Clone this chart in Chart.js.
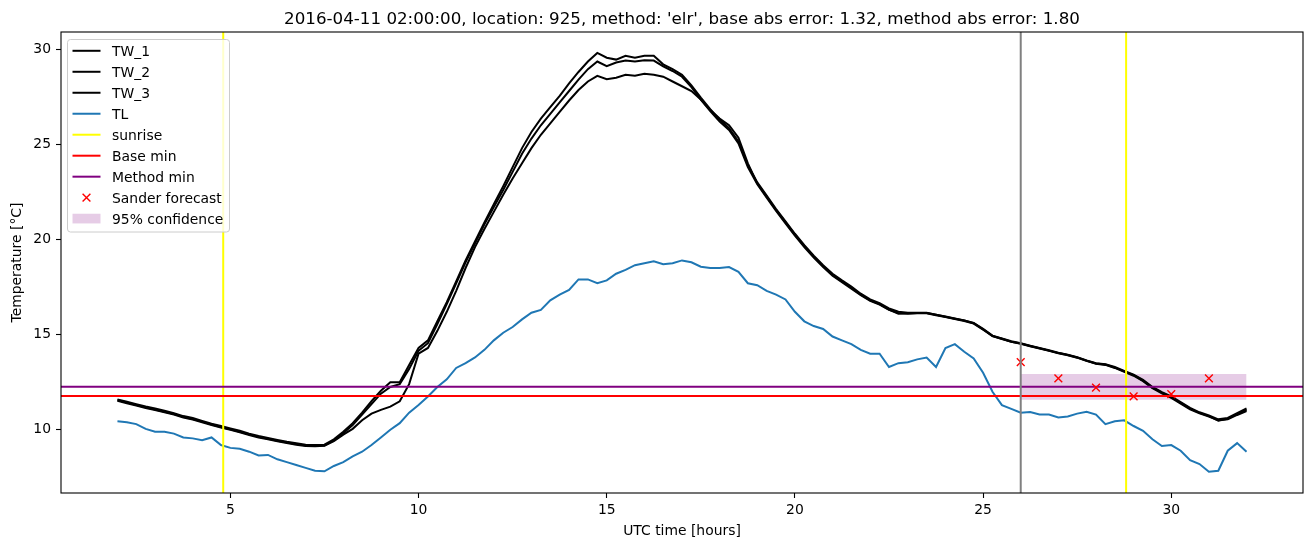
<!DOCTYPE html>
<html><head><meta charset="utf-8">
<script src="https://cdn.jsdelivr.net/npm/chart.js@4.4.0/dist/chart.umd.min.js"></script>
<style>html,body{margin:0;padding:0;background:#fff;} #c{display:block;}</style>
</head><body>
<canvas id="c" width="1310" height="547"></canvas>
<script>
const titleText = "2016-04-11 02:00:00, location: 925, method: 'elr', base abs error: 1.32, method abs error: 1.80";
const xLabel = "UTC time [hours]";
const yLabel = "Temperature [°C]";
const xTicks = [5, 10, 15, 20, 25, 30];
const yTicks = [10, 15, 20, 25, 30];
const xRange = [0.5, 33.5];
const yRange = [6.68, 30.9];
const timeStart = 2, timeStep = 0.25;

const tw1 = [11.60,11.47,11.34,11.22,11.12,11.00,10.87,10.72,10.62,10.47,10.32,10.20,10.07,9.95,9.80,9.67,9.57,9.47,9.37,9.29,9.22,9.20,9.22,9.50,
9.90,10.35,10.90,11.50,12.05,12.50,12.50,13.40,14.30,14.70,15.70,16.70,17.80,18.90,19.90,20.90,21.85,22.80,23.80,24.80,25.65,26.35,26.95,27.55,
28.20,28.80,29.35,29.80,29.55,29.45,29.65,29.55,29.65,29.65,29.20,28.95,28.65,28.10,27.45,26.85,26.30,25.85,25.15,23.90,23.00,22.30,21.60,20.95,
20.30,19.70,19.15,18.65,18.20,17.85,17.52,17.15,16.85,16.65,16.38,16.20,16.15,16.15,16.15,16.05,15.95,15.85,15.75,15.62,15.30,14.95,14.80,14.65,
14.55,14.42,14.30,14.18,14.05,13.95,13.82,13.65,13.50,13.45,13.30,13.10,12.90,12.62,12.25,11.98,11.75,11.45,11.15,10.92,10.75,10.55,10.62,10.88,11.12];

const tw2 = [11.55,11.43,11.30,11.18,11.07,10.95,10.83,10.68,10.57,10.43,10.28,10.15,10.03,9.90,9.76,9.63,9.53,9.43,9.33,9.25,9.18,9.16,9.18,9.45,
9.82,10.25,10.80,11.35,11.90,12.25,12.40,13.20,14.15,14.55,15.55,16.60,17.70,18.80,19.80,20.80,21.70,22.60,23.55,24.50,25.30,26.00,26.60,27.20,
27.80,28.40,28.95,29.35,29.10,29.30,29.40,29.35,29.42,29.40,29.10,28.85,28.55,28.00,27.35,26.75,26.20,25.75,25.05,23.80,22.90,22.20,21.50,20.85,
20.20,19.60,19.05,18.55,18.10,17.75,17.42,17.07,16.78,16.58,16.30,16.13,16.10,16.12,16.12,16.02,15.92,15.82,15.72,15.58,15.26,14.92,14.77,14.62,
14.52,14.39,14.27,14.15,14.02,13.92,13.79,13.62,13.47,13.41,13.25,13.05,12.84,12.56,12.19,11.92,11.68,11.38,11.08,10.86,10.69,10.50,10.55,10.78,10.98];

const tw3 = [11.52,11.40,11.27,11.15,11.04,10.92,10.80,10.65,10.54,10.40,10.25,10.12,10.00,9.87,9.73,9.60,9.50,9.40,9.30,9.22,9.15,9.14,9.16,9.40,
9.75,10.05,10.50,10.85,11.05,11.22,11.50,12.40,14.00,14.30,15.20,16.20,17.30,18.50,19.60,20.55,21.45,22.35,23.20,24.00,24.80,25.50,26.10,26.70,
27.30,27.85,28.30,28.60,28.42,28.50,28.65,28.60,28.70,28.65,28.55,28.30,28.05,27.80,27.35,26.80,26.35,26.00,25.35,24.00,22.95,22.25,21.55,20.90,
20.25,19.65,19.10,18.60,18.15,17.80,17.47,17.10,16.80,16.60,16.32,16.10,16.12,16.14,16.14,16.04,15.94,15.84,15.74,15.60,15.28,14.93,14.78,14.63,
14.53,14.40,14.28,14.16,14.03,13.93,13.80,13.63,13.48,13.43,13.27,13.07,12.87,12.59,12.22,11.95,11.71,11.41,11.11,10.89,10.72,10.48,10.58,10.82,11.05];

const tl = [10.45,10.40,10.30,10.05,9.90,9.90,9.80,9.60,9.55,9.45,9.60,9.20,9.05,9.00,8.85,8.65,8.68,8.45,8.30,8.15,8.00,7.85,7.82,8.10,
8.30,8.60,8.85,9.20,9.60,10.00,10.35,10.90,11.30,11.75,12.25,12.65,13.25,13.50,13.80,14.20,14.70,15.10,15.40,15.80,16.15,16.30,16.80,17.10,
17.35,17.90,17.90,17.70,17.85,18.20,18.40,18.65,18.75,18.85,18.70,18.75,18.90,18.80,18.57,18.50,18.50,18.55,18.30,17.70,17.60,17.30,17.10,16.85,
16.20,15.70,15.45,15.30,14.90,14.70,14.50,14.20,14.00,14.00,13.30,13.50,13.55,13.70,13.80,13.30,14.30,14.50,14.10,13.75,13.00,12.00,11.30,11.10,
10.90,10.93,10.80,10.80,10.65,10.70,10.85,10.95,10.80,10.30,10.45,10.50,10.20,9.95,9.50,9.15,9.20,8.90,8.40,8.20,7.80,7.85,8.90,9.30,8.85];

const sunriseHours = [4.81, 28.80];
const forecastStart = 26;
const baseMin = 11.78;
const methodMin = 12.26;
const sanderHours = [26, 27, 28, 29, 30, 31];
const sanderTemps = [13.56, 12.70, 12.22, 11.76, 11.87, 12.70];
const bandHours = [26, 32];
const bandLow = [11.58, 11.58];
const bandHigh = [12.93, 12.93];

const hours = tw1.map((_, i) => timeStart + i * timeStep);
const pts = (xs, ys) => xs.map((x, i) => ({x: x, y: ys[i]}));
const vline = (x) => [{x: x, y: yRange[0]}, {x: x, y: yRange[1]}];
const hline = (y) => [{x: xRange[0], y: y}, {x: xRange[1], y: y}];

const FONT = '"DejaVu Sans", sans-serif';
const blue = '#1f77b4';
const bandColor = 'rgba(128,0,128,0.2)';
const lineBase = {pointRadius: 0, borderWidth: 2, tension: 0, fill: false, showLine: true};

const datasets = [
  {label: 'band_low', data: pts(bandHours, bandLow), borderWidth: 0, pointRadius: 0, borderColor: 'rgba(0,0,0,0)', fill: false, order: 100, showLine: true},
  {label: '95% confidence', data: pts(bandHours, bandHigh), borderWidth: 0, pointRadius: 0, borderColor: 'rgba(0,0,0,0)', backgroundColor: bandColor, fill: '-1', order: 99, showLine: true},
  Object.assign({label: 'TW_1', data: pts(hours, tw1), borderColor: '#000', order: 90}, lineBase),
  Object.assign({label: 'TW_2', data: pts(hours, tw2), borderColor: '#000', order: 89}, lineBase),
  Object.assign({label: 'TW_3', data: pts(hours, tw3), borderColor: '#000', order: 88}, lineBase),
  Object.assign({label: 'TL', data: pts(hours, tl), borderColor: blue, order: 80}, lineBase),
  Object.assign({label: 'sunrise', data: vline(sunriseHours[0]), borderColor: '#ffff00', order: 70}, lineBase),
  Object.assign({label: 'sunrise2', data: vline(sunriseHours[1]), borderColor: '#ffff00', order: 69}, lineBase),
  Object.assign({label: 'Base min', data: hline(baseMin), borderColor: '#ff0000', order: 60}, lineBase),
  Object.assign({label: 'Method min', data: hline(methodMin), borderColor: '#800080', order: 50}, lineBase),
  {label: 'Sander forecast', data: pts(sanderHours, sanderTemps), showLine: false, pointStyle: 'crossRot', pointRadius: 5.5, pointBorderWidth: 1.4, pointBorderColor: '#ff0000', pointBackgroundColor: '#ff0000', borderColor: '#ff0000', order: 40},
  Object.assign({label: 'forecast start', data: vline(forecastStart), borderColor: '#808080', order: 30}, lineBase)
];

const legendItems = [
  {label: 'TW_1', type: 'line', color: '#000'},
  {label: 'TW_2', type: 'line', color: '#000'},
  {label: 'TW_3', type: 'line', color: '#000'},
  {label: 'TL', type: 'line', color: blue},
  {label: 'sunrise', type: 'line', color: '#ffff00'},
  {label: 'Base min', type: 'line', color: '#ff0000'},
  {label: 'Method min', type: 'line', color: '#800080'},
  {label: 'Sander forecast', type: 'x', color: '#ff0000'},
  {label: '95% confidence', type: 'patch', color: bandColor}
];

const overlay = {
  id: 'overlay',
  afterDatasetsDraw(chart) {
    const ctx = chart.ctx, a = chart.chartArea;
    ctx.save();
    ctx.strokeStyle = '#000';
    ctx.lineWidth = 1.1;
    ctx.strokeRect(a.left, a.top, a.right - a.left, a.bottom - a.top);
    // legend
    const bx = 67.5, by = 39.5, bw = 162, bh = 192.5, r = 3;
    ctx.beginPath();
    ctx.moveTo(bx + r, by);
    ctx.lineTo(bx + bw - r, by); ctx.quadraticCurveTo(bx + bw, by, bx + bw, by + r);
    ctx.lineTo(bx + bw, by + bh - r); ctx.quadraticCurveTo(bx + bw, by + bh, bx + bw - r, by + bh);
    ctx.lineTo(bx + r, by + bh); ctx.quadraticCurveTo(bx, by + bh, bx, by + bh - r);
    ctx.lineTo(bx, by + r); ctx.quadraticCurveTo(bx, by, bx + r, by);
    ctx.closePath();
    ctx.fillStyle = 'rgba(255,255,255,0.8)';
    ctx.fill();
    ctx.strokeStyle = '#cccccc';
    ctx.lineWidth = 1;
    ctx.stroke();
    ctx.font = '13.9px ' + FONT;
    ctx.textBaseline = 'alphabetic';
    ctx.textAlign = 'left';
    legendItems.forEach((it, i) => {
      const y = 50.8 + i * 20.98;
      if (it.type === 'line') {
        ctx.strokeStyle = it.color; ctx.lineWidth = 2;
        ctx.beginPath(); ctx.moveTo(72.5, y); ctx.lineTo(100.5, y); ctx.stroke();
      } else if (it.type === 'x') {
        ctx.strokeStyle = it.color; ctx.lineWidth = 1.4;
        const cx = 86.5, s = 3.9;
        ctx.beginPath(); ctx.moveTo(cx - s, y - s); ctx.lineTo(cx + s, y + s);
        ctx.moveTo(cx - s, y + s); ctx.lineTo(cx + s, y - s); ctx.stroke();
      } else {
        ctx.fillStyle = it.color;
        ctx.fillRect(72.5, y - 4.9, 28, 9.7);
      }
      ctx.fillStyle = '#000';
      ctx.fillText(it.label, 112, y + 5);
    });
    // title
    ctx.font = '16.7px ' + FONT;
    ctx.textAlign = 'center';
    ctx.fillStyle = '#000';
    ctx.fillText(titleText, (a.left + a.right) / 2, 23.5);
    ctx.restore();
  }
};

new Chart(document.getElementById('c'), {
  type: 'line',
  data: {datasets: datasets},
  options: {
    responsive: false,
    animation: false,
    devicePixelRatio: 1,
    events: [],
    layout: {padding: {top: 32, right: 7, left: 0, bottom: 0}},
    plugins: {legend: {display: false}, tooltip: {enabled: false}, title: {display: false}},
    scales: {
      x: {
        type: 'linear', min: xRange[0], max: xRange[1], bounds: 'data',
        afterBuildTicks: (s) => { s.ticks = xTicks.map(v => ({value: v})); },
        afterFit: (s) => { s.height = 54; },
        grid: {drawOnChartArea: false, drawTicks: true, tickLength: 5, tickColor: '#000', tickWidth: 1.1, color: '#000'},
        border: {display: false},
        ticks: {color: '#000', font: {family: FONT, size: 13.9}, padding: 4, maxRotation: 0, autoSkip: false},
        title: {display: true, text: xLabel, color: '#000', font: {family: FONT, size: 13.9}, padding: {top: 0, bottom: 7.7}}
      },
      y: {
        type: 'linear', min: yRange[0], max: yRange[1], bounds: 'data',
        afterBuildTicks: (s) => { s.ticks = yTicks.map(v => ({value: v})); },
        afterFit: (s) => { s.width = 61; },
        grid: {drawOnChartArea: false, drawTicks: true, tickLength: 5, tickColor: '#000', tickWidth: 1.1, color: '#000'},
        border: {display: false},
        ticks: {color: '#000', font: {family: FONT, size: 13.9}, padding: 5, autoSkip: false},
        title: {display: true, text: yLabel, color: '#000', font: {family: FONT, size: 13.9}, padding: {top: 9.5, bottom: 0}}
      }
    }
  },
  plugins: [overlay]
});
</script>
</body></html>
